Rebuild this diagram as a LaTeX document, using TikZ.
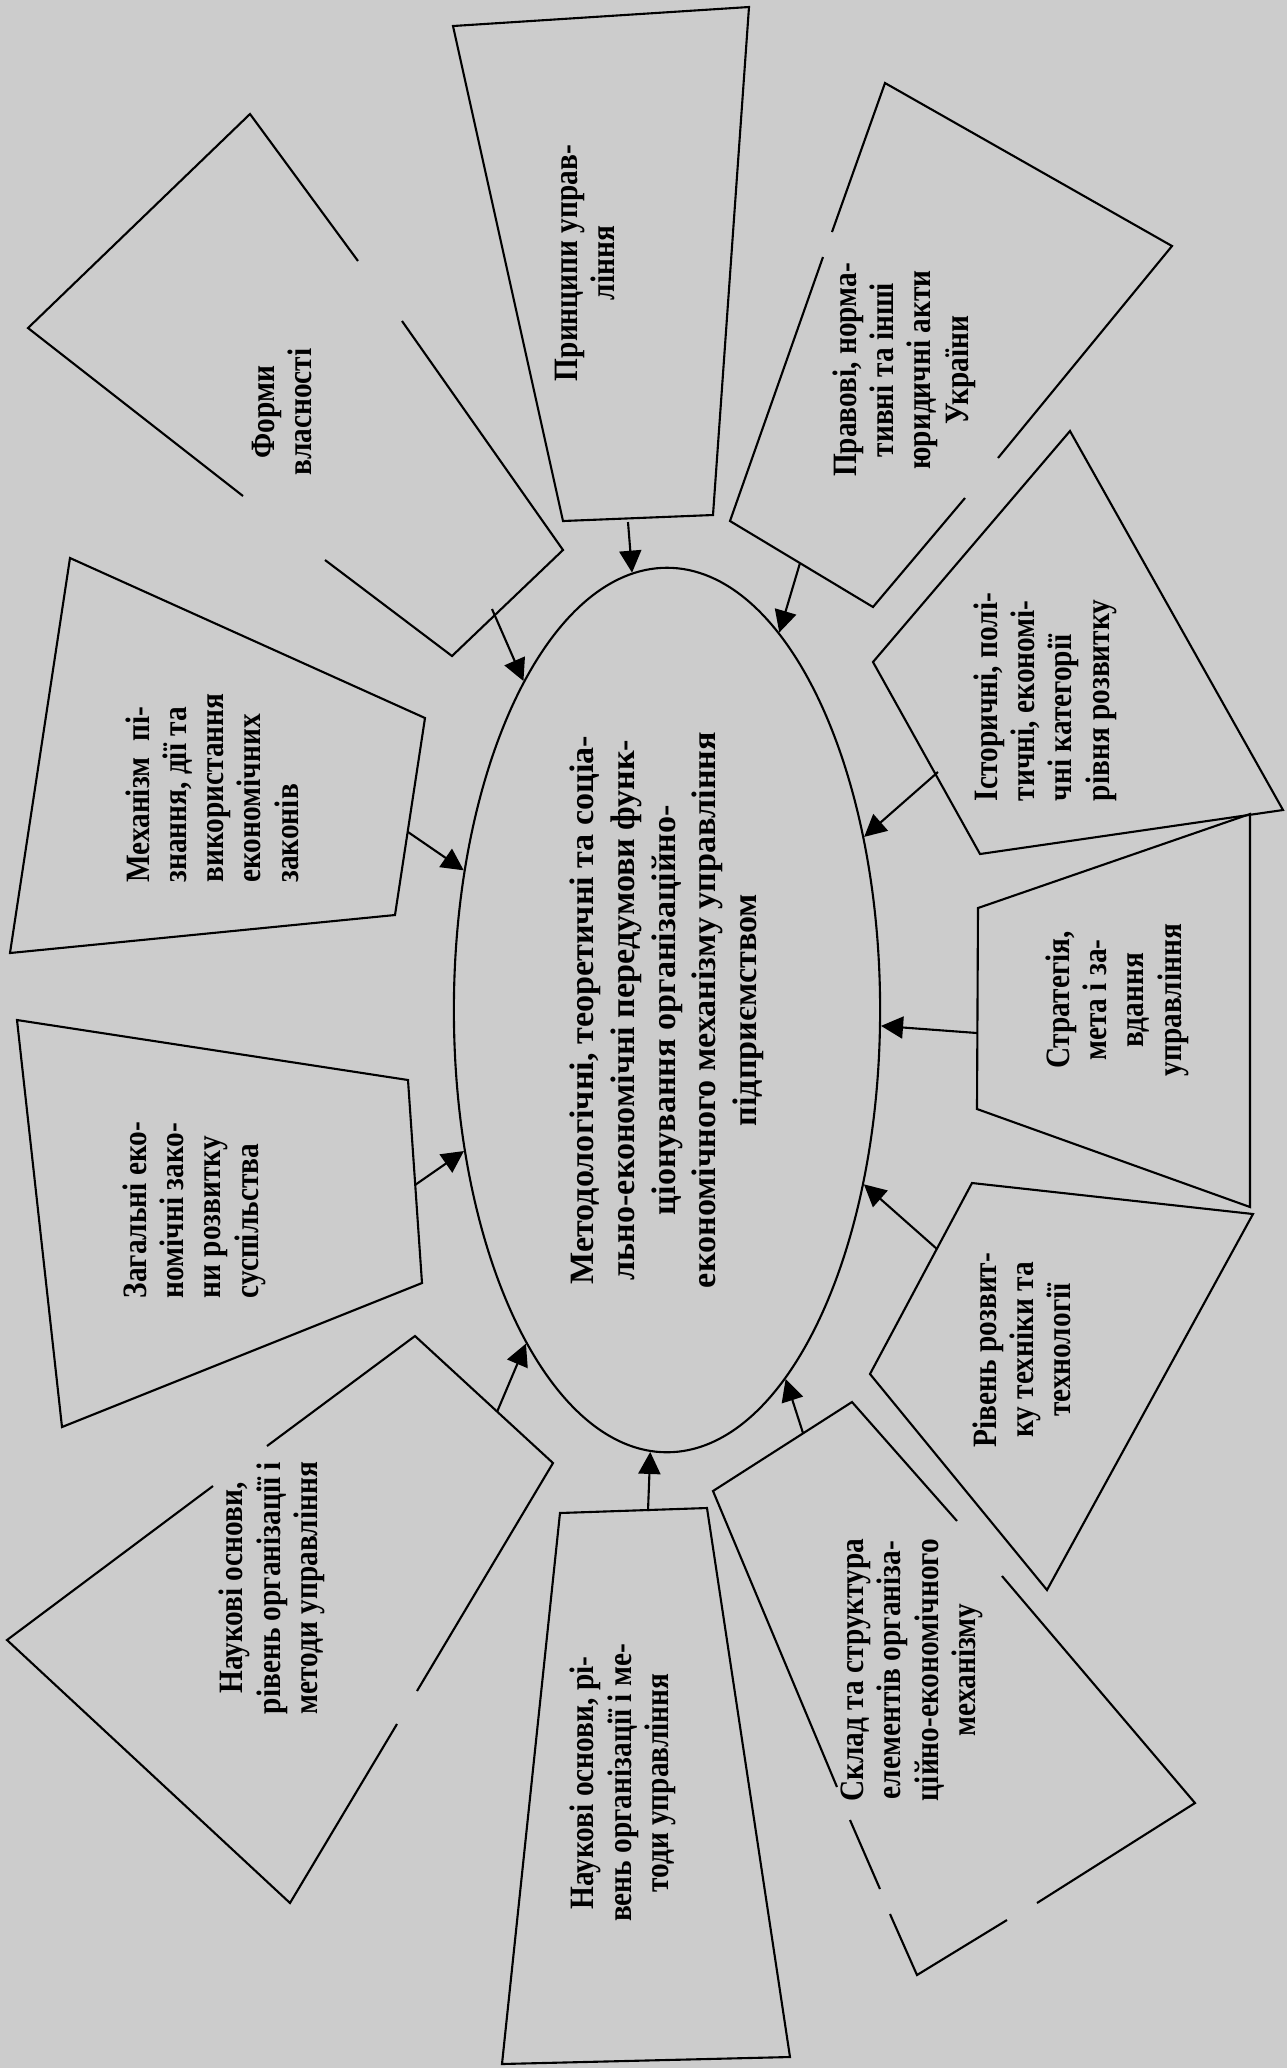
\documentclass[tikz,border=0pt]{standalone}
\usepackage{fontspec}
\setmainfont{Liberation Serif}
\newfontfamily\narrowserif[FakeStretch=0.86]{Liberation Serif}
\usepackage{tikz}
\usetikzlibrary{arrows.meta,shapes.geometric}
\definecolor{scan}{RGB}{204,204,204}

\begin{document}
\begin{tikzpicture}[x=0.01cm,y=-0.01cm,line width=0.6pt,
		lbl/.style={rotate=90,inner sep=0pt,align=center,
			font=\narrowserif\fontsize{9.7}{10.6}\selectfont\bfseries},
		feed/.style={-{Triangle[length=2.2mm,width=2.2mm]}}]
		% page of the scan
		\fill[scan] (0,0) rectangle (1287,2068);
		\useasboundingbox (0,0) rectangle (1287,2068);
		
		\node[draw,ellipse,rotate=90,minimum width=8.84cm,minimum height=4.26cm,
			inner sep=0pt,align=center,font=\fontsize{9.7}{11.6}\selectfont\bfseries] (core) at (667,1010)
			{Методологічні, теоретичні та соціа-\\льно-економічні передумови функ-\\ціонування організаційно-\\економічного механізму управління\\підприємством};
		
		% shapes round the core (some lines are broken as in the print)
		\draw (358,261) -- (250,114) -- (28,328) -- (243,496);
		\draw (325,560) -- (452,656) -- (563,550) -- (402,321);
		\draw (453,26) -- (749,7) -- (713,515) -- (563,521) -- cycle;
		\draw (823,257) -- (730,521) -- (873,607) -- (965,498);
		\draw (998,458) -- (1172,246) -- (885,83) -- (832,232);
		\draw (1070,431) -- (1283,810) -- (980,854) -- (873,662) -- cycle;
		\draw (978,908) -- (1250,814) -- (1250,1207) -- (977,1109) -- cycle;
		\draw (972,1183) -- (1253,1214) -- (1047,1590) -- (870,1374) -- cycle;
		\draw (957,1521) -- (852,1402) -- (713,1491) -- (837,1787);
		\draw (850,1820) -- (880,1889);
		\draw (890,1914) -- (917,1975) -- (1007,1920);
		\draw (1037,1903) -- (1195,1803) -- (1002,1576);
		\draw (560,1513) -- (707,1508) -- (790,2057) -- (502,2064) -- cycle;
		\draw (267,1446) -- (415,1336) -- (553,1463) -- (417,1691);
		\draw (397,1724) -- (290,1903) -- (7,1640) -- (213,1486);
		\draw (17,1020) -- (408,1080) -- (422,1283) -- (62,1427) -- cycle;
		\draw (70,558) -- (425,718) -- (395,915) -- (10,953) -- cycle;
		
		\node[lbl] (forms) at (282,412) {Форми\\власності};
		\node[lbl] (princ) at (585,263) {Принципи управ-\\ління};
		\node[lbl] (pravo) at (904,370) {Правові, норма-\\тивні та інші\\юридичні акти\\України};
		\node[lbl,align=left] (istor) at (1045,697) {Історичні, полі-\\тичні, економі-\\чні категорії\\рівня розвитку};
		\node[lbl] (strat) at (1117,1000) {Стратегія,\\мета і за-\\вдання\\управління};
		\node[lbl] (rivn) at (1022,1350) {Рівень розвит-\\ку техніки та\\технології};
		\node[lbl] (sklad) at (912,1670) {Склад та структура\\елементів організа-\\ційно-економічного\\механізму};
		\node[lbl] (nauka) at (623,1783) {Наукові основи, рі-\\вень організації і ме-\\тоди управління};
		\node[lbl] (naukb) at (272,1588) {Наукові основи,\\рівень організації і\\методи управління};
		\node[lbl,align=left] (zagal) at (194,1210) {Загальні еко-\\номічні зако-\\ни розвитку\\суспільства};
		\node[lbl,align=left] (mekh) at (212,788) {\setbox0\hbox{знання, дії та}\makebox[\wd0][s]{Механізм пі-}\\знання, дії та\\використання\\економічних\\законів};
		
		% where the arrows leave the shapes
		\coordinate (aforms) at (492,609);
		\coordinate (aprinc) at (628,522);
		\coordinate (apravo) at (800,563);
		\coordinate (aistor) at (938,772);
		\coordinate (astrat) at (977,1033);
		\coordinate (arivn) at (937,1249);
		\coordinate (asklad) at (803,1433);
		\coordinate (anauka) at (648,1511);
		\coordinate (anaukb) at (497,1412);
		\coordinate (azagal) at (415,1185);
		\coordinate (amekh) at (408,832);
		\foreach \src in {aforms,aprinc,apravo,aistor,astrat,arivn,asklad,anauka,anaukb,azagal,amekh}
		\draw[feed] (\src) -- (core);
\end{tikzpicture}
\end{document}
